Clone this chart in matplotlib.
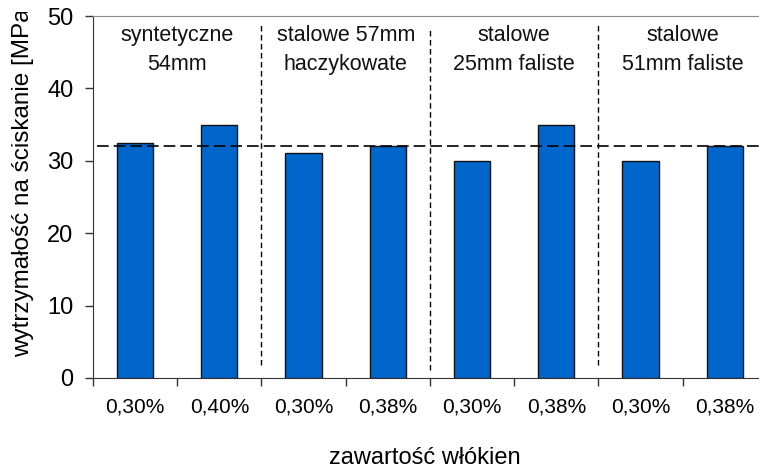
import matplotlib
matplotlib.use('Agg')
import matplotlib.pyplot as plt
from matplotlib.transforms import Bbox
import numpy as np

plt.rcParams['font.family'] = ['Liberation Sans', 'DejaVu Sans']

# data
tick_labels = ['0,30%', '0,40%', '0,30%', '0,38%', '0,30%', '0,38%', '0,30%', '0,38%']
strength = [32.5, 35.0, 31.1, 32.0, 30.0, 35.0, 30.0, 32.0]
group_names = ['syntetyczne\n54mm', 'stalowe 57mm\nhaczykowate',
               'stalowe\n25mm faliste', 'stalowe\n51mm faliste']
reference_level = 32.0

fig = plt.figure(figsize=(7.59, 4.71), dpi=100)
ax = fig.add_axes([0.1225, 0.1975, 0.888, 0.7685])

x = np.arange(len(strength))
ax.bar(x, strength, width=0.43, color='#0066CC', edgecolor='#111111', linewidth=1.0, zorder=3)

# average line
ax.hlines(reference_level, -0.45, 7.5, colors='black', linestyles=(0, (7, 3)), linewidth=1.2, zorder=4)

# group separators
ax.vlines(1.5, 1.8, 49.0, colors='black', linestyles=(0, (4, 2.5)), linewidth=1.0)
ax.vlines(3.5, 1.1, 48.5, colors='black', linestyles=(0, (4, 2.5)), linewidth=1.0)
ax.vlines(5.5, 1.8, 49.0, colors='black', linestyles=(0, (4, 2.5)), linewidth=1.0)

for i, name in enumerate(group_names):
    ax.text(2 * i + 0.5, 45.3, name, ha='center', va='center', fontsize=15.5,
            linespacing=1.45, color='#111111')

ax.set_xlim(-0.5, 7.5)
ax.set_ylim(0, 50)
ax.set_yticks(np.arange(0, 51, 10))
ax.tick_params(axis='y', labelsize=17, length=6, width=1, direction='out', colors='#333333',
               labelcolor='black', pad=8)

# ticks at category boundaries, labels in the middle
ax.set_xticks(np.arange(-0.5, 7.0, 1.0))
ax.set_xticklabels([])
ax.set_xticks(x, minor=True)
ax.set_xticklabels(tick_labels, minor=True)
ax.tick_params(axis='x', which='major', length=6, width=1, direction='out', colors='#333333')
ax.tick_params(axis='x', which='minor', length=0, labelsize=15, pad=14)

ax.spines['top'].set_color('#8c8c8c')
ax.spines['left'].set_color('#333333')
ax.spines['bottom'].set_color('#333333')
ax.spines['right'].set_visible(False)

fig.text(0.56, 0.028, 'zawartość włókien', ha='center', va='center', fontsize=17)
ylab = fig.text(0.030, 0.620, 'wytrzymałość na ściskanie [MPa]', ha='center', va='center',
                rotation=90, fontsize=17.5)
# the original label runs off the top of its box and gets cut
ylab.set_clip_box(Bbox([[0, 0], [759, 471 - 12]]))
ylab.set_clip_on(True)

fig.savefig('out.png', dpi=100)
